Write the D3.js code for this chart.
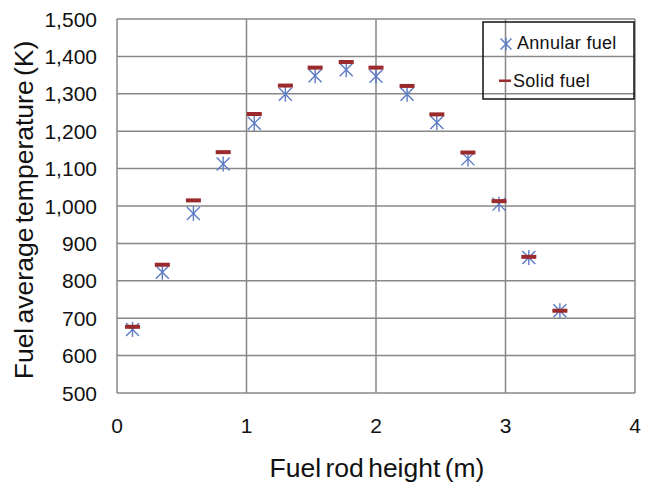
<!DOCTYPE html>
<html>
<head>
<meta charset="utf-8">
<script src="https://cdn.jsdelivr.net/npm/d3@7"></script>
<style>
  body { margin: 0; background: #fff; }
  text { font-family: "Liberation Sans", Arial, sans-serif; fill: #111; }
</style>
</head>
<body>
<script>
// chart data
const heights = [0.12, 0.35, 0.59, 0.82, 1.06, 1.30, 1.53, 1.77, 2.00, 2.24, 2.47, 2.71, 2.95, 3.18, 3.42];
const annularTemps = [670, 823, 980, 1112, 1221, 1299, 1348, 1364, 1347, 1299, 1223, 1126, 1005, 862, 720];
const solidTemps = [677, 843, 1015, 1144, 1246, 1322, 1370, 1385, 1370, 1321, 1245, 1143, 1013, 864, 720];
const xTicks = [0, 1, 2, 3, 4];
const yTicks = [500, 600, 700, 800, 900, 1000, 1100, 1200, 1300, 1400, 1500];
const seriesNames = ["Annular fuel", "Solid fuel"];

const w = 659, h = 484;
const plotLeft = 117, plotRight = 635, plotTop = 19, plotBottom = 393;
const blue = "#5b7bc4", red = "#9a2a2c", gridColor = "#878787";

const svg = d3.select("body").append("svg")
    .attr("width", w)
    .attr("height", h);

const x = d3.scaleLinear().domain([0, 4]).range([plotLeft, plotRight]);
const y = d3.scaleLinear().domain([500, 1500]).range([plotBottom, plotTop]);

// gridlines
svg.append("g").selectAll("line")
    .data(yTicks)
    .enter().append("line")
    .attr("x1", plotLeft).attr("x2", plotRight)
    .attr("y1", d => y(d)).attr("y2", d => y(d))
    .attr("stroke", gridColor).attr("stroke-width", 1.5);

svg.append("g").selectAll("line")
    .data(xTicks)
    .enter().append("line")
    .attr("x1", d => x(d)).attr("x2", d => x(d))
    .attr("y1", plotTop).attr("y2", plotBottom)
    .attr("stroke", gridColor).attr("stroke-width", 1.5);

// tick labels
const fmt = d3.format(",");
svg.append("g").selectAll("text")
    .data(yTicks)
    .enter().append("text")
    .attr("x", 97)
    .attr("y", d => y(d) + 7.5)
    .attr("text-anchor", "end")
    .attr("font-size", 21)
    .text(d => fmt(d));

svg.append("g").selectAll("text")
    .data(xTicks)
    .enter().append("text")
    .attr("x", d => x(d))
    .attr("y", 433)
    .attr("text-anchor", "middle")
    .attr("font-size", 21)
    .text(d => d);

// axis titles
svg.append("text")
    .attr("x", 377).attr("y", 477)
    .attr("text-anchor", "middle")
    .attr("font-size", 26.5)
    .attr("word-spacing", -3)
    .text("Fuel rod height (m)");

svg.append("text")
    .attr("transform", "translate(33,210) rotate(-90)")
    .attr("text-anchor", "middle")
    .attr("font-size", 26.5)
    .attr("word-spacing", -3)
    .text("Fuel average temperature (K)");

// marker shapes
function asterisk(g, s) {
    g.append("line").attr("x1", -s).attr("y1", -s).attr("x2", s).attr("y2", s);
    g.append("line").attr("x1", -s).attr("y1", s).attr("x2", s).attr("y2", -s);
    g.append("line").attr("x1", 0).attr("y1", -s - 1).attr("x2", 0).attr("y2", s + 1);
}

// annular fuel points
const annular = svg.append("g").selectAll("g")
    .data(heights.map((d, i) => ({ x: d, y: annularTemps[i] })))
    .enter().append("g")
    .attr("transform", d => `translate(${x(d.x)},${y(d.y)})`)
    .attr("stroke", blue)
    .attr("stroke-width", 1.4);
annular.each(function () { asterisk(d3.select(this), 6.5); });

// solid fuel points
svg.append("g").selectAll("rect")
    .data(heights.map((d, i) => ({ x: d, y: solidTemps[i] })))
    .enter().append("rect")
    .attr("x", d => x(d.x) - 7.5)
    .attr("y", d => y(d.y) - 2)
    .attr("width", 15)
    .attr("height", 4)
    .attr("fill", red);

// legend (no fill, grid shows through)
const legend = svg.append("g");
legend.append("rect")
    .attr("x", 483).attr("y", 22)
    .attr("width", 151).attr("height", 77)
    .attr("fill", "none")
    .attr("stroke", "#111")
    .attr("stroke-width", 1.5);

const lg1 = legend.append("g")
    .attr("transform", "translate(506,44)")
    .attr("stroke", blue)
    .attr("stroke-width", 1.4);
asterisk(lg1, 5.5);
legend.append("rect")
    .attr("x", 499).attr("y", 79.5)
    .attr("width", 12).attr("height", 2.5)
    .attr("fill", red);

legend.selectAll("text.lab")
    .data(seriesNames)
    .enter().append("text")
    .attr("class", "lab")
    .attr("x", (d, i) => i === 0 ? 517 : 513)
    .attr("y", (d, i) => i === 0 ? 49 : 87)
    .attr("font-size", 18)
    .attr("letter-spacing", 0.3)
    .text(d => d);
</script>
</body>
</html>
